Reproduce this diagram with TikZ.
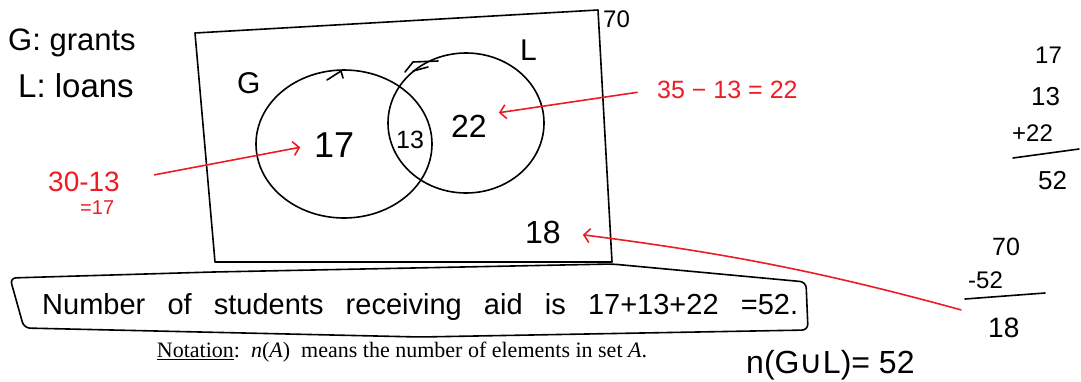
\documentclass[tikz,border=0pt]{standalone}
\usepackage{fontspec}
\setmainfont{Liberation Serif}
\newfontfamily\handfont{Liberation Sans}
\newfontfamily\symfont{DejaVu Sans}
\usetikzlibrary{arrows.meta}
\definecolor{penred}{RGB}{237,28,36}
\newcommand{\penfont}[1]{\handfont\fontsize{#1}{#1}\selectfont}
\begin{document}
\begin{tikzpicture}[x=1pt, y=-1pt,
    ink/.style={line width=1.6pt, line cap=round, line join=round},
    redink/.style={ink, draw=penred},
    hand/.style={inner sep=0pt, anchor=base west, font=\penfont{#1}},
    hand/.default=28,
    redhand/.style={hand=#1, text=penred},
    redarrow/.style={redink, -{Straight Barb[length=6pt,width=14pt]}}]
\useasboundingbox (0,0) rectangle (1081,381);
% Legend
\node[hand=31] (legG) at (8,50) {G: grants};
\node[hand=33] (legL) at (18,97) {L: loans};
% Universe and sets
\draw[ink] (195,33) -- (598,10) -- (612,262) -- (215,262) -- cycle;
\node[hand=24] (total) at (603,27) {70};
\draw[ink] (344,144) ellipse [x radius=88, y radius=74];
\draw[ink] (466,123) ellipse [x radius=78, y radius=70];
\draw[ink] (327,80) -- (341,71) -- (343,78);
\draw[ink] (405,72) -- (413,62) -- (438,61);
\draw[ink] (413,71) -- (428,67);
\node[hand=30] (labG) at (237,93) {G};
\node[hand=30] (labL) at (520,60) {L};
% Regions
\node[hand=36] (n17) at (314,157) {17};
\node[hand=25] (n13) at (396,148) {13};
\node[hand=32] (n22) at (451,137) {22};
\node[hand=32] (n18) at (525,243) {18};
% Red working
\node[redhand=28] (sub1) at (48,191) {30-13};
\node[redhand=20] (eq1) at (80,214) {=17};
\node[redhand=25] (calc2) at (657,98) {35 − 13 = 22};
% Sums on the right
\node[hand=24] (r17) at (1035,63) {17};
\node[hand=26] (r13) at (1031,105) {13};
\node[hand=24] (r22) at (1012,141) {+22};
\draw[ink] (1013,158) -- (1079,149);
\node[hand=26] (r52) at (1038,189) {52};
\node[hand=25] (r70) at (992,255) {70};
\node[hand=24] (rm52) at (968,288) {-52};
\draw[ink] (965,299) -- (1045,293);
\node[hand=28] (n18b) at (988,337) {18};
% Arrows
\draw[redarrow, shorten <=35pt, shorten >=14pt] (sub1.east) -- (n17.west);
\draw[redarrow, shorten <=20pt, shorten >=12pt] (calc2.west) -- (n22.north east);
\draw[redarrow, shorten <=28pt, shorten >=22pt] (n18b.north west) to[bend right=4] (n18.east);
% Answer
\draw[ink, rounded corners=6pt] (10,278) -- (213,272) -- (612,264) -- (806,282)
    -- (808,330) -- (420,337) -- (24,328) -- cycle;
\node[hand=29] (answer) at (42,314) {\makebox[756pt][s]{Number of students receiving aid is 17+13+22 =52.}};
\node[inner sep=0pt, font=\fontsize{22}{22}\selectfont] (note) at (402,352)
    {\underline{Notation}:\ \ \textit{n}(\textit{A})\ \ means the number of elements in set \textit{A}.};
\node[hand=32] (union) at (746,373) {n(G{\symfont ∪}L)= 52};
\end{tikzpicture}
\end{document}
